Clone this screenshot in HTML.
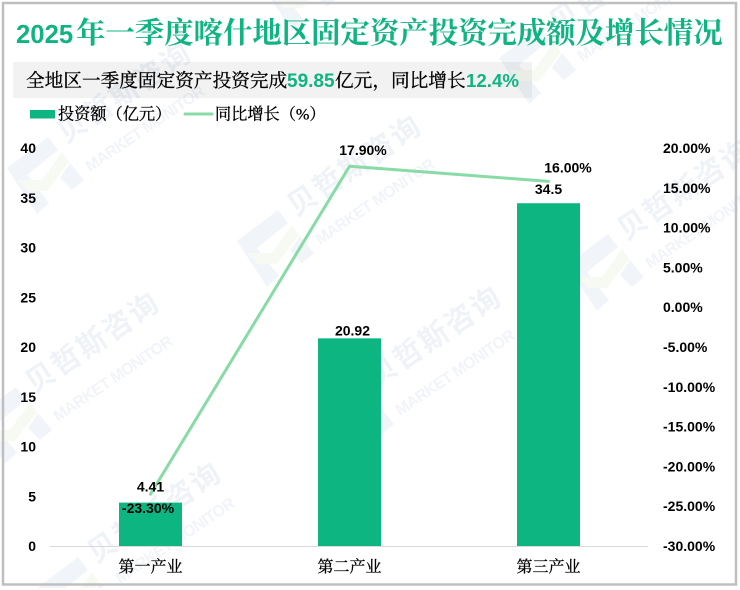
<!DOCTYPE html>
<html lang="zh">
<head>
<meta charset="utf-8">
<title>2025年一季度喀什地区固定资产投资完成额及增长情况</title>
<style>
html,body{margin:0;padding:0;background:#fff;width:740px;height:590px;overflow:hidden}
#chart{display:block;width:740px;height:590px;overflow:hidden}
.num{font-family:"Liberation Sans","Noto Sans CJK SC",sans-serif;font-weight:700}
.cjk{font-family:"Liberation Serif","Noto Serif CJK SC",serif}
.ink{stroke:#000;stroke-width:.3px}
</style>
</head>
<body>
<svg id="chart" xmlns="http://www.w3.org/2000/svg" width="740" height="590" viewBox="0 0 740 590">
  <rect width="740" height="590" fill="#fff"/>
  <g id="watermarks"></g>
  <rect x="3" y="3" width="733" height="581.5" fill="none" stroke="#bfbfbf" stroke-width="2.5"/>

  <text y="43" fill="#10b482"><tspan class="num" x="16" font-size="25.7">2025</tspan><tspan class="cjk" x="76" font-size="29.4" font-weight="700">年一季度喀什地区固定资产投资完成额及增长情况</tspan></text>

  <rect x="13" y="62" width="519" height="36" fill="#000" fill-opacity="0.05"/>
  <text y="87" fill="#000"><tspan class="cjk ink" x="26" font-size="18.67">全地区一季度固定资产投资完成</tspan><tspan class="num" x="287" font-size="19" fill="#10b482">59.85</tspan><tspan class="cjk ink" x="335" font-size="18.67">亿元，同比增长</tspan><tspan class="num" x="466" font-size="18.7" fill="#10b482">12.4%</tspan></text>

  <rect x="30" y="110" width="25" height="8.5" fill="#0db580"/>
  <text class="cjk ink" x="58" y="119.5" font-size="16.2" fill="#000">投资额（亿元）</text>
  <line x1="185" y1="114" x2="212" y2="114" stroke="#88dba6" stroke-width="3" stroke-linecap="round"/>
  <text class="cjk ink" x="215" y="119.5" font-size="16.2" fill="#000">同比增长（%）</text>

  <g id="left-axis"></g>
  <g id="right-axis"></g>
  <g id="bars"></g>
  <line x1="50" y1="546.5" x2="648" y2="546.5" stroke="#d9d9d9" stroke-width="1"/>
  <g id="line-series"></g>
  <g id="x-axis"></g>
  <g id="labels"></g>
</svg>
<script>
const categories = ['第一产业', '第二产业', '第三产业'];
const investment = [4.41, 20.92, 34.5];
const growth = [-23.3, 17.9, 16.0];
const investmentLabels = ['4.41', '20.92', '34.5'];
const growthLabels = ['-23.30%', '17.90%', '16.00%'];
const leftTicks = [0, 5, 10, 15, 20, 25, 30, 35, 40];
const rightTicks = [-30, -25, -20, -15, -10, -5, 0, 5, 10, 15, 20];

const NS = 'http://www.w3.org/2000/svg';
const plotBottom = 546.5, plotTop = 148.5;
const plotLeft = 51, bandWidth = 199;
const barWidth = 63;

function xBand(i) { return plotLeft + bandWidth * (i + 0.5); }
function yLeft(v) { return plotBottom - (v - 0) / (40 - 0) * (plotBottom - plotTop); }
function yRight(v) { return plotBottom - (v + 30) / (20 + 30) * (plotBottom - plotTop); }

function svgEl(tag, parent, attrs) {
  const el = document.createElementNS(NS, tag);
  for (const k in attrs) el.setAttribute(k, attrs[k]);
  parent.appendChild(el);
  return el;
}

/* Clip a polygon against a maximum y so decoration stays inside the frame */
function clipBelow(pts, maxY) {
  const out = [];
  for (let i = 0; i < pts.length; i++) {
    const a = pts[i], b = pts[(i + 1) % pts.length];
    if (a[1] <= maxY) out.push(a);
    if ((a[1] <= maxY) !== (b[1] <= maxY)) {
      const t = (maxY - a[1]) / (b[1] - a[1]);
      out.push([a[0] + (b[0] - a[0]) * t, maxY]);
    }
  }
  return out;
}

/* Watermark tiles (decorative background) */
const wm = document.getElementById('watermarks');
const tileOffsets = [[0,0],[230,73],[560,97],[-32,250],[310,244],[30,420],[492,-110],[255,-183]];
const logoShapes = [
  { pts: [[7,168],[48,137],[58,150],[27,175],[49,203],[37,214]], fill: '#f1f5f9' },
  { pts: [[60,178],[70,163],[84,180],[72,190]], fill: '#f1f5f9' },
  { pts: [[17,180],[42,180],[62,152],[69,162],[47,191],[28,191]], fill: '#f7faf2' }
];
tileOffsets.forEach(function (o) {
  const g = svgEl('g', wm, {});
  
  
  logoShapes.forEach(function (s) {
    const moved = s.pts.map(function (p) { return [p[0] + o[0], p[1] + o[1]]; });
    const clipped = clipBelow(moved, 588);
    if (clipped.length > 2) {
      svgEl('polygon', g, { points: clipped.map(function (p) { return p.join(','); }).join(' '), fill: s.fill });
    }
  });
  const t1 = svgEl('text', g, { transform: 'translate(' + (66 + o[0]) + ' ' + (144 + o[1]) + ') rotate(-34)', 'font-size': '29', 'font-weight': '700', 'letter-spacing': '2', fill: '#eff3f8', 'font-family': '"Liberation Sans","Noto Sans CJK SC",sans-serif' });
  t1.textContent = '贝哲斯咨询';
  const t2 = svgEl('text', g, { transform: 'translate(' + (90 + o[0]) + ' ' + (Math.min(172 + o[1], 584)) + ') rotate(-34)', 'font-size': '16', 'font-weight': '700', textLength: '140', fill: '#f1f4f8', 'font-family': '"Liberation Sans",sans-serif' });
  t2.textContent = 'MARKET MONITOR';
});

/* Axis tick labels */
const leftAxis = document.getElementById('left-axis');
leftTicks.forEach(function (v) {
  const t = svgEl('text', leftAxis, { x: 36, y: yLeft(v) + 4.5, 'text-anchor': 'end', 'font-size': '14', class: 'num', fill: '#000' });
  
  
  t.textContent = String(v);
});
const rightAxis = document.getElementById('right-axis');
rightTicks.forEach(function (v) {
  const t = svgEl('text', rightAxis, { x: 663, y: yRight(v) + 4.5, 'font-size': '14', class: 'num', fill: '#000' });
  
  
  t.textContent = v.toFixed(2) + '%';
});

/* Bars */
const barsG = document.getElementById('bars');
investment.forEach(function (v, i) {
  const r = svgEl('rect', barsG, { x: xBand(i) - barWidth / 2, y: yLeft(v), width: barWidth, height: plotBottom - yLeft(v), fill: '#0db580' });
  
  
});

/* Line */
const lineG = document.getElementById('line-series');
const line = svgEl('polyline', lineG, {
  points: growth.map(function (v, i) { return xBand(i) + ',' + (yRight(v) + 1); }).join(' '),
  fill: 'none', stroke: '#88dba6', 'stroke-width': '3', 'stroke-linecap': 'round', 'stroke-linejoin': 'round'
});



/* Category labels */
const xAxis = document.getElementById('x-axis');
categories.forEach(function (c, i) {
  const t = svgEl('text', xAxis, { x: xBand(i), y: 572, 'text-anchor': 'middle', 'font-size': '16', class: 'cjk ink', fill: '#000' });
  
  
  t.textContent = c;
});

/* Data labels */
const labelsG = document.getElementById('labels');
const barLabelNudge = [[0, -11], [3, -3], [0, -9]];
const lineLabelNudge = [[-2.5, 20], [13.5, -10], [19.5, -8]];
investment.forEach(function (v, i) {
  const t = svgEl('text', labelsG, { x: xBand(i) + barLabelNudge[i][0], y: yLeft(v) + barLabelNudge[i][1], 'text-anchor': 'middle', 'font-size': '14', class: 'num', fill: '#000' });
  
  
  t.textContent = investmentLabels[i];
});
growth.forEach(function (v, i) {
  const t = svgEl('text', labelsG, { x: xBand(i) + lineLabelNudge[i][0], y: yRight(v) + lineLabelNudge[i][1], 'text-anchor': 'middle', 'font-size': '14', class: 'num', fill: '#000' });
  
  
  t.textContent = growthLabels[i];
});
</script>
</body>
</html>
